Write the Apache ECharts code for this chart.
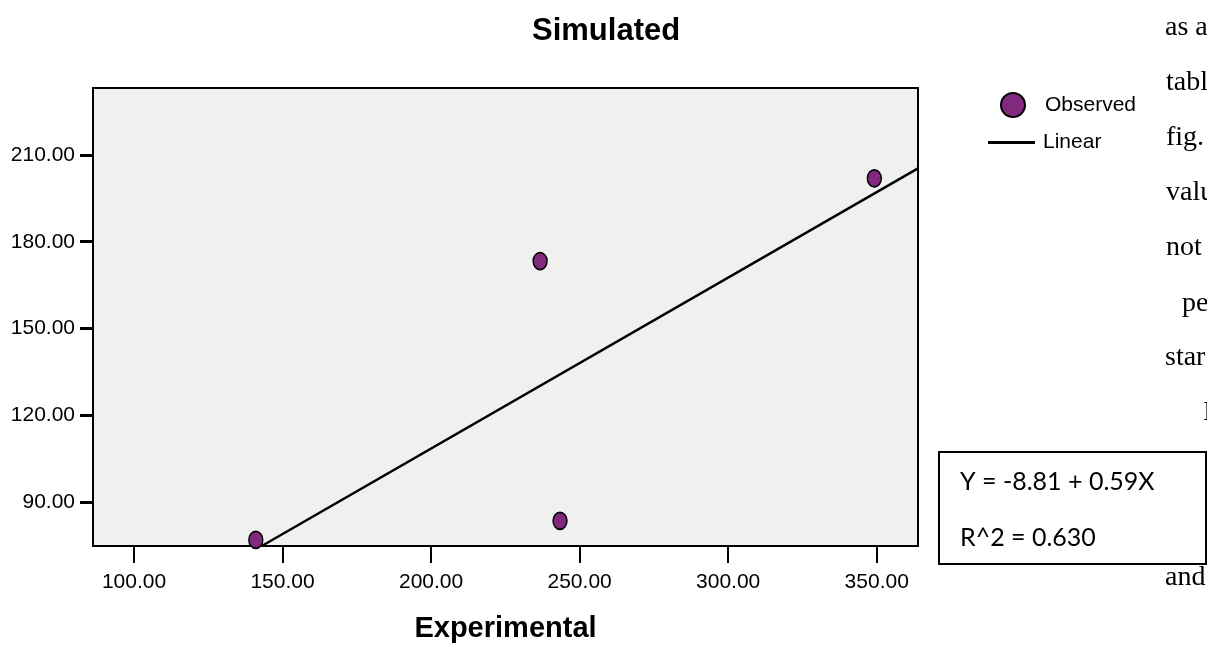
<!DOCTYPE html>
<html>
<head>
<meta charset="utf-8">
<script src="https://cdn.jsdelivr.net/npm/echarts@6/dist/echarts.min.js"></script>
<style>
  html, body { margin: 0; padding: 0; background: #fff; }
  #chart { width: 1207px; height: 649px; }
</style>
</head>
<body>
<div id="chart"></div>
<script>
// observed points
var experimental = [141.0, 236.7, 243.4, 349.2];
var simulated = [76.8, 173.3, 83.4, 201.9];
// fit line Y = -8.81 + 0.59X, ends read where it leaves the plot
var fitX = [143.0, 363.9];
var fitY = [74.7, 205.4];
var xTicks = [100, 150, 200, 250, 300, 350];
var yTicks = [90, 120, 150, 180, 210];
var fitText = ['Y = -8.81 + 0.59X', 'R^2 = 0.630'];
// cut-off words of the page text on the right
var sideWords = ['as a', 'tabl', 'fig.', 'valu', 'not', 'pe', 'star', 'I', 'and'];

var sans = '"Liberation Sans", Arial, sans-serif';
var ellipse = 'path://M1,0A1,1 0 1,1 1,2A1,1 0 1,1 1,0Z';

var chart = echarts.init(document.getElementById('chart'));

var sideX = [1165, 1166, 1166, 1166, 1166, 1182, 1165, 1203, 1165];
var sideY = [28, 83, 138, 193, 248, 304, 358, 413, 578];
var graphics = [{
    type: 'rect',
    shape: { x: 939, y: 452, width: 267, height: 112 },
    style: { fill: '#fff', stroke: '#000', lineWidth: 2 }
}];
fitText.forEach(function (t, i) {
    graphics.push({
        type: 'text', x: 960, y: i === 0 ? 482 : 538,
        style: { text: t, font: '25px Lato, "Liberation Sans", sans-serif', fill: '#000', verticalAlign: 'middle' }
    });
});
sideWords.forEach(function (w, i) {
    graphics.push({
        type: 'text', x: sideX[i], y: sideY[i],
        style: { text: w, font: '28px "Liberation Serif", serif', fill: '#000', verticalAlign: 'middle' }
    });
});

var option = {
    animation: false,
    backgroundColor: '#fff',
    title: {
        text: 'Simulated',
        left: 532,
        top: 16,
        padding: 0,
        textStyle: { fontFamily: sans, fontWeight: 'bold', fontSize: 31, color: '#000' }
    },
    legend: [{
        data: ['Observed'],
        left: 1000, top: 92, padding: 0,
        itemWidth: 24, itemHeight: 29,
        selectedMode: false,
        textStyle: { fontFamily: sans, fontSize: 21, color: '#000', padding: [0, 0, 0, 15] }
    }, {
        data: [{ name: 'Linear', icon: 'rect' }],
        left: 988, top: 132, padding: 0,
        itemWidth: 47, itemHeight: 3,
        selectedMode: false,
        textStyle: { fontFamily: sans, fontSize: 21, color: '#000', padding: [0, 0, 0, 3] }
    }],
    grid: {
        left: 93, right: 289, top: 88, bottom: 103,
        containLabel: false,
        outerBoundsMode: 'none',
        show: true,
        backgroundColor: '#f0f0f0',
        borderColor: '#000',
        borderWidth: 2
    },
    xAxis: {
        type: 'value',
        min: 86.2, max: 363.9,
        name: 'Experimental',
        nameLocation: 'middle',
        nameGap: 68,
        nameTextStyle: { fontFamily: sans, fontWeight: 'bold', fontSize: 29, color: '#000' },
        axisLine: { show: false },
        splitLine: { show: false },
        axisTick: { show: true, length: 17, customValues: xTicks, lineStyle: { color: '#000', width: 2 } },
        axisLabel: {
            customValues: xTicks, margin: 26,
            fontFamily: sans, fontSize: 21, color: '#000',
            formatter: function (v) { return v.toFixed(2); }
        }
    },
    yAxis: {
        type: 'value',
        min: 74.7, max: 233.2,
        axisLine: { show: false },
        splitLine: { show: false },
        axisTick: { show: true, length: 13, customValues: yTicks, lineStyle: { color: '#000', width: 3 } },
        axisLabel: {
            customValues: yTicks, margin: 18,
            fontFamily: sans, fontSize: 21, color: '#000',
            formatter: function (v) { return v.toFixed(2); }
        }
    },
    series: [{
        name: 'Observed',
        type: 'scatter',
        symbol: ellipse,
        symbolSize: [14, 17],
        z: 3,
        itemStyle: { color: '#80297f', borderColor: '#000', borderWidth: 1.5, opacity: 1 },
        data: experimental.map(function (x, i) { return [x, simulated[i]]; })
    }, {
        name: 'Linear',
        type: 'line',
        symbol: 'none',
        showSymbol: false,
        clip: true,
        z: 2,
        itemStyle: { color: '#000' },
        lineStyle: { color: '#000', width: 2.5 },
        data: fitX.map(function (x, i) { return [x, fitY[i]]; })
    }],
    graphic: graphics
};

chart.setOption(option);
window.addEventListener('resize', function () { chart.resize(); });
</script>
</body>
</html>
